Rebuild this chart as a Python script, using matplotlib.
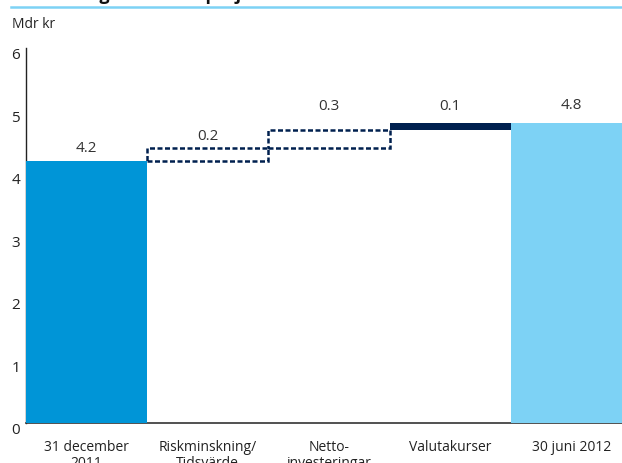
import numpy as np
import matplotlib.pyplot as plt
from matplotlib.lines import Line2D

plt.rcParams['font.family'] = ['Open Sans', 'DejaVu Sans']

# data
categories = ['31 december\n2011', 'Riskminskning/\nTidsvärde', 'Netto-\ninvesteringar',
              'Valutakurser', '30 juni 2012']
start_value = 4.2
changes = [0.2, 0.3, 0.1]
end_value = 4.8
value_labels = ['4.2', '0.2', '0.3', '0.1', '4.8']

# styling
c_start = '#0095d7'
c_end = '#7dd2f5'
c_navy = '#00204f'
c_text = '#333333'
label_pad_px = [12, 12, 23, 17, 18]

W, H = 622, 463
fig = plt.figure(figsize=(W / 100, H / 100), dpi=100)
ax = fig.add_axes([25.7 / W, 1 - 423.3 / H, 606.5 / W, (423.3 - 48.3) / H])

x = np.arange(len(categories))
bottoms = np.concatenate([[0], start_value + np.cumsum([0] + changes[:-1]), [0]])
heights = np.array([start_value] + changes + [end_value])

ax.bar(x[0], heights[0], bottom=bottoms[0], width=1, color=c_start, zorder=3)
ax.bar(x[4], heights[4], bottom=bottoms[4], width=1, color=c_end, zorder=3)
# dashed steps
ax.bar(x[1:3], heights[1:3], bottom=bottoms[1:3], width=1, fill=False,
       edgecolor=c_navy, linewidth=1.8, linestyle=(0, (2, 1)), zorder=3)
# solid step
ax.bar(x[3], heights[3], bottom=bottoms[3], width=1, color=c_navy, zorder=3)

tops = bottoms + heights
for xi, top, lab, pad in zip(x, tops, value_labels, label_pad_px):
    ax.annotate(lab, (xi, top), xytext=(0, pad), textcoords='offset pixels',
                ha='center', va='center', fontsize=11, color=c_text)

ax.set_xlim(-0.5, 4.5)
ax.set_ylim(0, 6)
ax.set_yticks(range(0, 7))
ax.set_xticks(x)
ax.set_xticklabels(categories, fontsize=10, color='#222222', linespacing=1.05)
for lab in ax.get_yticklabels():
    lab.set_verticalalignment('top')
ax.tick_params(axis='y', length=0, pad=4, labelsize=11, labelcolor='#222222')
ax.tick_params(axis='x', length=0, pad=12)

for s in ['top', 'right']:
    ax.spines[s].set_visible(False)
ax.spines['left'].set_color('#222222')
ax.spines['left'].set_linewidth(1.0)
ax.spines['bottom'].set_color('#333333')
ax.spines['bottom'].set_linewidth(1.2)

# header pieces
fig.text(11 / W, 1.001, 'Förändring av värde i projekt', fontsize=13,
         fontweight='bold', va='baseline', color='#111111')
fig.add_artist(Line2D([11 / W, 1], [1 - 6.5 / H] * 2, transform=fig.transFigure,
                      color='#7dd2f5', linewidth=1.8))
fig.text(11.5 / W, 1 - 28 / H, 'Mdr kr', fontsize=10, va='baseline', color='#222222')

fig.savefig('out.png', dpi=100)
